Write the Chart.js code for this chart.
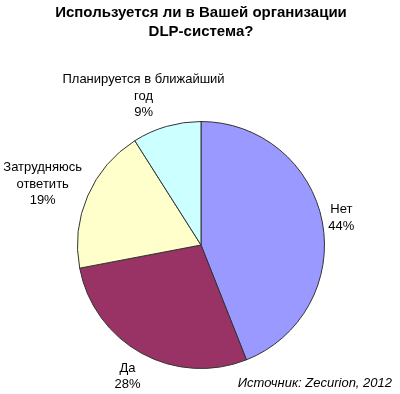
<!DOCTYPE html>
<html><head><meta charset="utf-8">
<script src="https://cdn.jsdelivr.net/npm/chart.js@4/dist/chart.umd.min.js"></script>
<style>html,body{margin:0;padding:0;background:#fff}#wrap{width:400px;height:394px;position:relative}</style>
</head><body><div id="wrap"><canvas id="c" width="400" height="394"></canvas></div>
<script>
const categories = ["Нет", "Да", "Затрудняюсь ответить", "Планируется в ближайший год"];
const labelLines = [["Нет"], ["Да"], ["Затрудняюсь", "ответить"], ["Планируется в ближайший", "год"]];
const values = [44, 28, 19, 9];
const colors = ["#9999FF", "#993366", "#FFFFCC", "#CCFFFF"];
const titleLines = ["Используется ли в Вашей организации", "DLP-система?"];
const sourceText = "Источник: Zecurion, 2012";
const labelOffsets = [[19, -4], [-14, 23], [-45, -12], [-23, -30]];

const labelPlugin = {
  id: 'labels',
  afterDraw(chart) {
    const ctx = chart.ctx;
    ctx.save();
    ctx.fillStyle = '#000';
    ctx.textAlign = 'center';
    ctx.textBaseline = 'middle';
    ctx.font = 'bold 15px "Liberation Sans", Arial, sans-serif';
    ctx.fillText(titleLines[0], 201, 13);
    ctx.fillText(titleLines[1], 201, 32);
    const meta = chart.getDatasetMeta(0);
    const total = values.reduce((a, b) => a + b, 0);
    ctx.font = '13px "Liberation Sans", Arial, sans-serif';
    meta.data.forEach((arc, i) => {
      const p = arc.getProps(['x', 'y', 'startAngle', 'endAngle', 'outerRadius'], true);
      const mid = (p.startAngle + p.endAngle) / 2;
      const px = p.x + p.outerRadius * Math.cos(mid) + labelOffsets[i][0];
      const py = p.y + p.outerRadius * Math.sin(mid) + labelOffsets[i][1];
      const lines = labelLines[i].concat([Math.round(values[i] / total * 100) + '%']);
      const lh = 16.5;
      const y0 = py - (lines.length - 1) * lh / 2;
      lines.forEach((t, k) => ctx.fillText(t, px, y0 + k * lh));
    });
    ctx.font = 'italic 13px "Liberation Sans", Arial, sans-serif';
    ctx.textAlign = 'right';
    ctx.fillText(sourceText, 392, 383);
    ctx.restore();
  }
};

new Chart(document.getElementById('c'), {
  type: 'pie',
  data: {
    labels: categories,
    datasets: [{
      data: values,
      backgroundColor: colors,
      borderColor: '#333',
      borderWidth: 1,
      hoverOffset: 0
    }]
  },
  options: {
    responsive: false,
    animation: false,
    layout: { padding: { top: 121, bottom: 25, left: 77, right: 75 } },
    plugins: { legend: { display: false }, tooltip: { enabled: false }, title: { display: false } }
  },
  plugins: [labelPlugin]
});
</script></body></html>
